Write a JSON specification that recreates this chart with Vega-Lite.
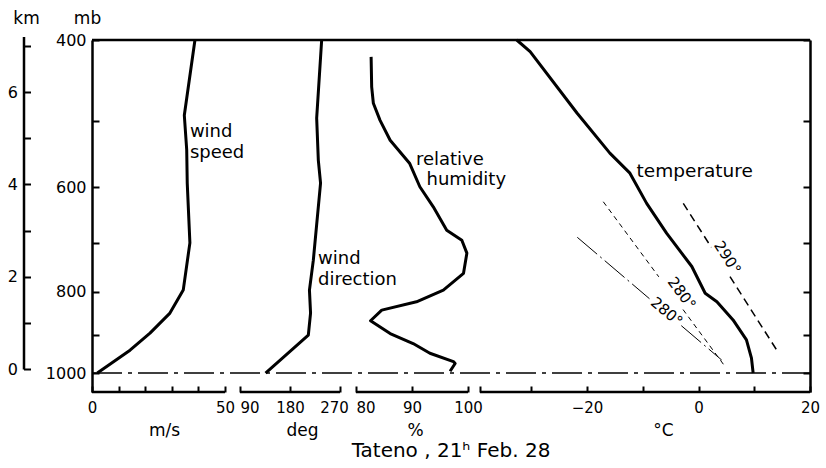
{
  "$schema": "https://vega.github.io/schema/vega-lite/v6.json",
  "width": 718,
  "height": 352,
  "autosize": {"type": "none"},
  "padding": {"left": 92, "top": 40, "right": 16, "bottom": 76},
  "background": "white",
  "config": {
    "view": {"stroke": null},
    "font": "DejaVu Sans",
    "axis": {
      "grid": false,
      "domainColor": "black",
      "domainWidth": 2.5,
      "tickColor": "black",
      "tickWidth": 2,
      "labelColor": "black",
      "titleColor": "black",
      "labelFont": "DejaVu Sans",
      "titleFont": "DejaVu Sans",
      "labelFontSize": 16,
      "titleFontSize": 17,
      "titleFontWeight": "normal",
      "labelOverlap": false,
      "labelFlush": false
    }
  },
  "title": {
    "text": "Tateno , 21ʰ Feb. 28",
    "orient": "bottom",
    "anchor": "middle",
    "fontSize": 20,
    "fontWeight": "normal",
    "font": "DejaVu Sans",
    "color": "black",
    "offset": 3
  },
  "resolve": {
    "scale": {"x": "independent", "y": "independent"},
    "axis": {"x": "independent", "y": "independent"}
  },
  "layer": [
    {
      "layer": [
        {
          "data": {"values": [
            {"p": 400, "x": 38.7}, {"p": 492, "x": 34.7}, {"p": 541, "x": 35.6},
            {"p": 593, "x": 35.8}, {"p": 699, "x": 36.8}, {"p": 796, "x": 34.3},
            {"p": 848, "x": 29.3}, {"p": 896, "x": 21.8}, {"p": 939, "x": 14.3},
            {"p": 1000, "x": 2.0}
          ]},
          "mark": {"type": "line", "color": "black", "strokeWidth": 3, "strokeJoin": "round"},
          "encoding": {
            "x": {
              "field": "x", "type": "quantitative",
              "scale": {"domain": [0, 269.9], "nice": false, "zero": false},
              "axis": {
                "orient": "bottom", "values": [0, 10, 20, 30, 40, 50], "format": "d",
                "labelExpr": "datum.value == 0 || datum.value == 50 ? datum.label : ''",
                "domain": false, "tickSize": -6, "labelPadding": 14, "labelFontSize": 15,
                "title": "m/s", "titleX": 72, "titleY": 38, "titleAlign": "center", "titleBaseline": "middle"
              }
            },
            "y": {
              "field": "p", "type": "quantitative",
              "scale": {"type": "log", "domain": [400, 1053.6], "reverse": true, "nice": false},
              "axis": {
                "orient": "left", "values": [400, 500, 600, 700, 800, 900, 1000], "format": "d",
                "labelExpr": "datum.value == 400 || datum.value == 600 || datum.value == 800 || datum.value == 1000 ? datum.label : ''",
                "tickSize": -7, "labelPadding": 13,
                "title": "mb", "titleAngle": 0, "titleX": -5, "titleY": -22, "titleAlign": "center", "titleBaseline": "middle"
              }
            },
            "order": {"field": "p", "type": "quantitative"}
          }
        },
        {
          "data": {"values": [
            {"p": 515, "x": 36.8, "t": "wind"},
            {"p": 546, "x": 36.8, "t": "speed"}
          ]},
          "mark": {"type": "text", "align": "left", "baseline": "middle", "fontSize": 18, "font": "DejaVu Sans", "color": "black"},
          "encoding": {
            "x": {"field": "x", "type": "quantitative"},
            "y": {"field": "p", "type": "quantitative"},
            "text": {"field": "t"}
          }
        },
        {
          "data": {"values": [{}]},
          "mark": {"type": "rule", "color": "black", "strokeWidth": 2.5},
          "encoding": {"x": {"datum": 0}, "x2": {"datum": 50}, "y": {"datum": 1053.6}}
        }
      ]
    },
    {
      "layer": [
        {
          "data": {"values": [
            {"p": 400, "x": 237}, {"p": 496, "x": 228}, {"p": 557, "x": 231},
            {"p": 593, "x": 235}, {"p": 733, "x": 222}, {"p": 796, "x": 215},
            {"p": 848, "x": 217}, {"p": 901, "x": 213}, {"p": 1000, "x": 136}
          ]},
          "mark": {"type": "line", "color": "black", "strokeWidth": 3, "strokeJoin": "round"},
          "encoding": {
            "x": {
              "field": "x", "type": "quantitative",
              "scale": {"domain": [-176.4, 1116], "nice": false, "zero": false},
              "axis": {
                "orient": "bottom", "values": [90, 180, 270], "format": "d",
                "labelAlign": {"condition": {"test": "datum.value == 90", "value": "left"}, "value": "center"},
                "labelOffset": {"condition": {"test": "datum.value == 270", "value": -6}, "value": 0},
                "domain": false, "tickSize": -6, "labelPadding": 14, "labelFontSize": 15,
                "title": "deg", "titleX": 210, "titleY": 38, "titleAlign": "center", "titleBaseline": "middle"
              }
            },
            "y": {
              "field": "p", "type": "quantitative",
              "scale": {"type": "log", "domain": [400, 1053.6], "reverse": true, "nice": false},
              "axis": {
                "orient": "right", "values": [400, 500, 600, 700, 800, 900, 1000],
                "labels": false, "tickSize": -7, "title": null
              }
            },
            "order": {"field": "p", "type": "quantitative"}
          }
        },
        {
          "data": {"values": [
            {"p": 731, "x": 230.4, "t": "wind"},
            {"p": 774, "x": 230.4, "t": "direction"}
          ]},
          "mark": {"type": "text", "align": "left", "baseline": "middle", "fontSize": 18, "font": "DejaVu Sans", "color": "black"},
          "encoding": {
            "x": {"field": "x", "type": "quantitative"},
            "y": {"field": "p", "type": "quantitative"},
            "text": {"field": "t"}
          }
        },
        {
          "data": {"values": [{}]},
          "mark": {"type": "rule", "color": "black", "strokeWidth": 2.5},
          "encoding": {"x": {"datum": 90}, "x2": {"datum": 270}, "y": {"datum": 1053.6}}
        }
      ]
    },
    {
      "layer": [
        {
          "data": {"values": [
            {"p": 419, "x": 82.7}, {"p": 455, "x": 82.8}, {"p": 476, "x": 83.1},
            {"p": 499, "x": 84.3}, {"p": 527, "x": 86.1}, {"p": 562, "x": 89.6},
            {"p": 599, "x": 91.4}, {"p": 633, "x": 93.8}, {"p": 675, "x": 96.2},
            {"p": 694, "x": 98.9}, {"p": 719, "x": 99.8}, {"p": 760, "x": 99.2},
            {"p": 796, "x": 95.6}, {"p": 822, "x": 90.8}, {"p": 841, "x": 84.6},
            {"p": 866, "x": 82.6}, {"p": 897, "x": 86.1}, {"p": 922, "x": 90.2},
            {"p": 947, "x": 93.2}, {"p": 969, "x": 97.4}, {"p": 974, "x": 97.7},
            {"p": 995, "x": 96.8}
          ]},
          "mark": {"type": "line", "color": "black", "strokeWidth": 3, "strokeJoin": "round"},
          "encoding": {
            "x": {
              "field": "x", "type": "quantitative",
              "scale": {"domain": [32.86, 161.07], "nice": false, "zero": false},
              "axis": {
                "orient": "bottom", "values": [80, 90, 100], "format": "d",
                "labelAlign": {"condition": {"test": "datum.value == 80", "value": "left"}, "value": "center"},
                "domain": false, "tickSize": -6, "labelPadding": 14, "labelFontSize": 15,
                "title": "%", "titleX": 323, "titleY": 38, "titleAlign": "center", "titleBaseline": "middle"
              }
            },
            "y": {
              "field": "p", "type": "quantitative",
              "scale": {"type": "log", "domain": [400, 1053.6], "reverse": true, "nice": false},
              "axis": null
            },
            "order": {"field": "p", "type": "quantitative"}
          }
        },
        {
          "data": {"values": [
            {"p": 556.5, "x": 90.7, "t": "relative"},
            {"p": 588, "x": 92.6, "t": "humidity"}
          ]},
          "mark": {"type": "text", "align": "left", "baseline": "middle", "fontSize": 18, "font": "DejaVu Sans", "color": "black"},
          "encoding": {
            "x": {"field": "x", "type": "quantitative"},
            "y": {"field": "p", "type": "quantitative"},
            "text": {"field": "t"}
          }
        },
        {
          "data": {"values": [{}]},
          "mark": {"type": "rule", "color": "black", "strokeWidth": 2.5},
          "encoding": {"x": {"datum": 80}, "x2": {"datum": 100}, "y": {"datum": 1053.6}}
        }
      ]
    },
    {
      "layer": [
        {
          "data": {"values": [
            {"p": 400, "x": -32.6}, {"p": 413, "x": -30.2}, {"p": 489, "x": -21.8},
            {"p": 546, "x": -15.9}, {"p": 577, "x": -12.3}, {"p": 627, "x": -9.3},
            {"p": 681, "x": -5.7}, {"p": 746, "x": -1.2}, {"p": 803, "x": 1.2},
            {"p": 822, "x": 3.3}, {"p": 864, "x": 6.2}, {"p": 913, "x": 8.6},
            {"p": 960, "x": 9.5}, {"p": 1000, "x": 9.8}
          ]},
          "mark": {"type": "line", "color": "black", "strokeWidth": 3, "strokeJoin": "round"},
          "encoding": {
            "x": {
              "field": "x", "type": "quantitative",
              "scale": {"domain": [-108.79, 20], "nice": false, "zero": false},
              "axis": {
                "orient": "bottom", "values": [-39.2, -30, -20, -10, 0, 10, 20], "format": "d",
                "labelExpr": "datum.value == -20 || datum.value == 0 || datum.value == 20 ? datum.label : ''",
                "domain": false, "tickSize": -6, "labelPadding": 14, "labelFontSize": 15,
                "title": "°C", "titleX": 571, "titleY": 38, "titleAlign": "center", "titleBaseline": "middle"
              }
            },
            "y": {
              "field": "p", "type": "quantitative",
              "scale": {"type": "log", "domain": [400, 1053.6], "reverse": true, "nice": false},
              "axis": null
            },
            "order": {"field": "p", "type": "quantitative"}
          }
        },
        {
          "data": {"values": [
            {"seg": "a", "p": 627.0, "x": -2.73}, {"seg": "a", "p": 707.6, "x": 2.30},
            {"seg": "b", "p": 767.2, "x": 5.65}, {"seg": "b", "p": 938.7, "x": 14.03}
          ]},
          "mark": {"type": "line", "color": "black", "strokeWidth": 1.5, "strokeDash": [8, 5]},
          "encoding": {
            "x": {"field": "x", "type": "quantitative"},
            "y": {"field": "p", "type": "quantitative"},
            "detail": {"field": "seg"},
            "order": {"field": "p", "type": "quantitative"}
          }
        },
        {
          "data": {"values": [
            {"seg": "a", "p": 624.2, "x": -17.08}, {"seg": "a", "p": 767.5, "x": -7.12},
            {"seg": "b", "p": 839.7, "x": -2.78}, {"seg": "b", "p": 978.3, "x": 4.57}
          ]},
          "mark": {"type": "line", "color": "black", "strokeWidth": 1, "strokeDash": [5, 4]},
          "encoding": {
            "x": {"field": "x", "type": "quantitative"},
            "y": {"field": "p", "type": "quantitative"},
            "detail": {"field": "seg"},
            "order": {"field": "p", "type": "quantitative"}
          }
        },
        {
          "data": {"values": [
            {"seg": "a", "p": 688.4, "x": -21.74}, {"seg": "a", "p": 815.1, "x": -8.79},
            {"seg": "b", "p": 877.8, "x": -3.09}, {"seg": "b", "p": 964.9, "x": 4.16}
          ]},
          "mark": {"type": "line", "color": "black", "strokeWidth": 1, "strokeDash": [26, 4, 2, 4]},
          "encoding": {
            "x": {"field": "x", "type": "quantitative"},
            "y": {"field": "p", "type": "quantitative"},
            "detail": {"field": "seg"},
            "order": {"field": "p", "type": "quantitative"}
          }
        },
        {
          "data": {"values": [{"p": 573.6, "x": -11.1, "t": "temperature"}]},
          "mark": {"type": "text", "align": "left", "baseline": "middle", "fontSize": 18.5, "font": "DejaVu Sans", "color": "black"},
          "encoding": {
            "x": {"field": "x", "type": "quantitative"},
            "y": {"field": "p", "type": "quantitative"},
            "text": {"field": "t"}
          }
        },
        {
          "data": {"values": [{"p": 727.8, "x": 5.2, "t": "290°"}]},
          "mark": {"type": "text", "align": "center", "baseline": "middle", "fontSize": 15, "font": "DejaVu Sans", "color": "black", "angle": 57.5},
          "encoding": {
            "x": {"field": "x", "type": "quantitative"},
            "y": {"field": "p", "type": "quantitative"},
            "text": {"field": "t"}
          }
        },
        {
          "data": {"values": [{"p": 803, "x": -3.0, "t": "280°"}]},
          "mark": {"type": "text", "align": "center", "baseline": "middle", "fontSize": 15, "font": "DejaVu Sans", "color": "black", "angle": 53.5},
          "encoding": {
            "x": {"field": "x", "type": "quantitative"},
            "y": {"field": "p", "type": "quantitative"},
            "text": {"field": "t"}
          }
        },
        {
          "data": {"values": [{"p": 845, "x": -5.7, "t": "280°"}]},
          "mark": {"type": "text", "align": "center", "baseline": "middle", "fontSize": 15, "font": "DejaVu Sans", "color": "black", "angle": 40},
          "encoding": {
            "x": {"field": "x", "type": "quantitative"},
            "y": {"field": "p", "type": "quantitative"},
            "text": {"field": "t"}
          }
        },
        {
          "data": {"values": [{}]},
          "mark": {"type": "rule", "color": "black", "strokeWidth": 1.5, "strokeDash": [30, 6, 4, 6]},
          "encoding": {"x": {"datum": -108.79}, "x2": {"datum": 20}, "y": {"datum": 1000}}
        },
        {
          "data": {"values": [{}]},
          "mark": {"type": "rule", "color": "black", "strokeWidth": 2.5},
          "encoding": {"x": {"datum": -108.79}, "x2": {"datum": 20}, "y": {"datum": 400}}
        },
        {
          "data": {"values": [{}]},
          "mark": {"type": "rule", "color": "black", "strokeWidth": 2.5},
          "encoding": {"x": {"datum": -39.2}, "x2": {"datum": 20}, "y": {"datum": 1053.6}}
        }
      ]
    },
    {
      "data": {"values": [{"km": 0}, {"km": 7}]},
      "mark": {"type": "point", "opacity": 0},
      "encoding": {
        "y": {
          "field": "km", "type": "quantitative",
          "scale": {"domain": [0, 7.2], "range": [329, -3.4], "nice": false, "zero": false},
          "axis": {
            "orient": "left", "offset": 68.5, "values": [0, 1, 2, 3, 4, 5, 6, 7], "format": "d",
            "labelExpr": "datum.value % 2 == 0 ? datum.label : ''",
            "tickSize": -7, "labelPadding": 13,
            "title": "km", "titleAngle": 0, "titleX": 2.5, "titleY": -22, "titleAlign": "center", "titleBaseline": "middle"
          }
        }
      }
    }
  ]
}
